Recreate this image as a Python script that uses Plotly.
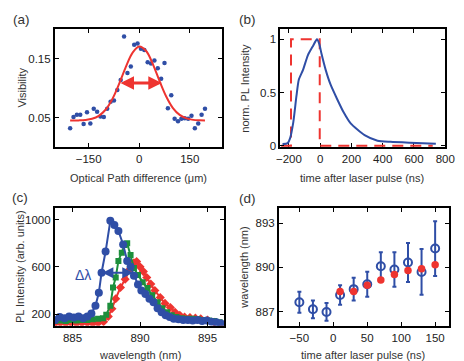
import plotly.graph_objects as go

# (a) visibility vs optical path difference
opd_um = [-205, -195, -185, -175, -165, -155, -145, -135, -125, -115, -105,
          -95, -85, -75, -65, -55, -45, -35, -25, -15, -5, 5, 15, 25, 35,
          45, 55, 65, 75, 85, 95, 105, 115, 125, 135, 145, 155, 165, 175,
          185, 195]
visibility = [0.032, 0.051, 0.055, 0.055, 0.039, 0.059, 0.040, 0.065, 0.060,
              0.052, 0.051, 0.065, 0.077, 0.079, 0.097, 0.114, 0.188, 0.126,
              0.137, 0.174, 0.176, 0.167, 0.165, 0.144, 0.142, 0.147, 0.134,
              0.116, 0.143, 0.066, 0.088, 0.048, 0.044, 0.048, 0.049, 0.048,
              0.053, 0.032, 0.040, 0.055, 0.065]
fit_opd_um = [-205, -180, -160, -140, -120, -100, -80, -60, -40, -20, 0,
              20, 40, 60, 80, 100, 120, 140, 160, 180, 195]
fit_visibility = [0.045, 0.0453, 0.046, 0.048, 0.053, 0.0634, 0.0814, 0.1069,
                  0.136, 0.1602, 0.1709, 0.1637, 0.1415, 0.1126, 0.086, 0.0663,
                  0.0546, 0.0487, 0.0462, 0.0454, 0.0451]
fwhm_ends_um = [-60, 67]
fwhm_level = 0.109

# (b) normalised PL intensity vs time
t_pl_ns = [-241, -208, -193, -172, -152, -137, -110, -79, -48, -21, -6, 8,
           35, 66, 108, 149, 195, 284, 367, 450, 574, 740]
pl_norm = [0.016, 0.025, 0.07, 0.223, 0.468, 0.621, 0.713, 0.85, 0.933, 1.0,
           0.958, 0.866, 0.713, 0.576, 0.44, 0.317, 0.21, 0.1, 0.048, 0.037,
           0.028, 0.018]
t_pulse_ns = [-250, -187, -187, -3, -3, 720]
pulse_norm = [0, 0, 1, 1, 0, 0]

# (c) PL spectra
wl_blue = [883.7, 884.05, 884.4, 884.75, 885.1, 885.45, 885.8, 886.1, 886.4,
           886.7, 886.95, 887.15, 887.45, 887.8, 888.1, 888.4, 888.75, 889.05,
           889.3, 889.55, 889.85, 890.1, 890.4, 890.7, 891.0, 891.3, 891.6,
           891.9, 892.2, 892.5, 892.85, 893.2, 893.55, 893.9, 894.25, 894.6,
           894.95, 895.3, 895.65, 896.0]
pl_blue = [150, 175, 165, 180, 170, 180, 165, 180, 205, 270, 380, 550, 730,
           990, 955, 905, 790, 650, 600, 525, 450, 400, 370, 330, 300, 250,
           215, 190, 175, 160, 155, 150, 150, 145, 150, 140, 145, 135, 130, 120]
wl_green = [883.7, 884.1, 884.5, 884.9, 885.3, 885.7, 886.1, 886.5, 886.9,
            887.25, 887.5, 887.8, 888.0, 888.2, 888.4, 888.65, 888.85, 889.05,
            889.3, 889.55, 889.85, 890.2, 890.55, 890.9, 891.3, 891.65, 892.0,
            892.35, 892.7, 893.1, 893.5, 893.9, 894.3, 894.7, 895.1, 895.5,
            895.9]
pl_green = [140, 145, 140, 150, 145, 150, 150, 155, 160, 165, 195, 270, 425,
            510, 650, 720, 785, 800, 700, 590, 530, 470, 420, 360, 300, 250,
            215, 190, 175, 165, 160, 160, 155, 150, 145, 140, 130]
wl_red = [883.7, 884.1, 884.5, 884.9, 885.3, 885.7, 886.1, 886.5, 886.9, 887.3,
          887.65, 887.92, 888.2, 888.55, 888.9, 889.25, 889.55, 889.75, 890.0,
          890.25, 890.5, 890.8, 891.1, 891.5, 891.85, 892.25, 892.6, 892.95,
          893.3, 893.7, 894.1, 894.5, 895.0, 895.5, 896.0]
pl_red = [120, 125, 120, 125, 120, 125, 125, 120, 125, 135, 180, 245, 330, 425,
          495, 580, 635, 645, 600, 560, 510, 455, 400, 340, 290, 255, 215, 190,
          175, 170, 165, 160, 150, 130, 120]
dl_ends_nm = [887.1, 889.5]
dl_level = 550

# (d) peak wavelength vs time
t_d_ns = [-50, -30, -10, 10, 30, 50, 70, 90, 110, 130, 150]
wl_d = [887.63, 887.15, 886.97, 888.12, 888.52, 888.85, 890.07, 889.85,
        890.33, 889.69, 891.28]
wl_d_err = [0.71, 0.6, 0.6, 0.66, 0.77, 0.85, 0.96, 1.17, 1.33, 1.55, 1.86]
t_d_red_ns = [10, 30, 50, 70, 90, 110, 130, 150]
wl_d_red = [888.36, 888.36, 888.78, 889.14, 889.51, 889.78, 889.91, 890.18]

BLUE = "#2f4ea6"
RED = "#ee3430"
GREEN = "#1d8f3c"
FONT = "Liberation Sans, Arial, sans-serif"
W, H = 464, 361


def frame(px0, px1, **kw):
    d = dict(domain=[px0 / W, px1 / W], showline=True, linecolor="black",
             linewidth=2, mirror="allticks", ticks="inside", ticklen=4,
             tickcolor="black", showgrid=False, zeroline=False,
             tickfont=dict(size=11.5, color="#222"))
    d.update(kw)
    return d


def vframe(top, bottom, **kw):
    return frame(W * (1 - bottom / H), W * (1 - top / H), **kw)


fig = go.Figure()

# (a)
fig.add_trace(go.Scatter(x=opd_um, y=visibility, mode="markers",
                         marker=dict(color=BLUE, size=4.5), xaxis="x", yaxis="y"))
fig.add_trace(go.Scatter(x=fit_opd_um, y=fit_visibility, mode="lines",
                         line=dict(color=RED, width=2, shape="spline"),
                         xaxis="x", yaxis="y"))

# (b)
fig.add_trace(go.Scatter(x=t_pulse_ns, y=pulse_norm, mode="lines",
                         line=dict(color=RED, width=2, dash="11px,7px"),
                         xaxis="x2", yaxis="y2"))
fig.add_trace(go.Scatter(x=t_pl_ns, y=pl_norm, mode="lines",
                         line=dict(color=BLUE, width=2, shape="spline",
                                   smoothing=0.6),
                         xaxis="x2", yaxis="y2"))

# (c)
fig.add_trace(go.Scatter(x=wl_red, y=pl_red, mode="lines+markers",
                         line=dict(color=RED, width=2),
                         marker=dict(symbol="diamond", size=7, color=RED),
                         xaxis="x3", yaxis="y3"))
fig.add_trace(go.Scatter(x=wl_green, y=pl_green, mode="lines+markers",
                         line=dict(color=GREEN, width=2),
                         marker=dict(symbol="square", size=6, color=GREEN),
                         xaxis="x3", yaxis="y3"))
fig.add_trace(go.Scatter(x=wl_blue, y=pl_blue, mode="lines+markers",
                         line=dict(color=BLUE, width=2),
                         marker=dict(symbol="circle", size=8, color=BLUE),
                         xaxis="x3", yaxis="y3"))

# (d)
fig.add_trace(go.Scatter(x=t_d_ns, y=wl_d, mode="markers",
                         marker=dict(symbol="circle-open", size=8, color=BLUE,
                                     line=dict(width=2, color=BLUE)),
                         error_y=dict(type="data", array=wl_d_err, color=BLUE,
                                      thickness=2, width=2),
                         xaxis="x4", yaxis="y4"))
fig.add_trace(go.Scatter(x=t_d_red_ns, y=wl_d_red, mode="markers",
                         marker=dict(symbol="circle", size=7.5, color=RED),
                         xaxis="x4", yaxis="y4"))

fig.update_layout(
    width=W, height=H, margin=dict(l=0, r=0, t=0, b=0),
    paper_bgcolor="white", plot_bgcolor="white", showlegend=False,
    font=dict(family=FONT, color="#333"),
    xaxis=frame(44.3, 216.7, range=[-250, 246], tickvals=[-150, 0, 150],
                anchor="y"),
    yaxis=vframe(21.7, 141, range=[0, 0.2], tickvals=[0.05, 0.15],
                 ticktext=["0.05", "0.15"], anchor="x"),
    xaxis2=frame(276.7, 446.7, range=[-255, 800],
                 tickvals=[-200, 0, 200, 400, 600, 800], anchor="y2",
                 layer="below traces"),
    yaxis2=vframe(21, 141, range=[-0.012, 1.1], tickvals=[0, 0.5, 1],
                  ticktext=["0", "0.5", "1"], anchor="x2"),
    xaxis3=frame(44.3, 219, range=[883.7, 896.25], tickvals=[885, 890, 895],
                 anchor="y3"),
    yaxis3=vframe(202.7, 322.3, range=[100, 1100], tickvals=[200, 600, 1000],
                  anchor="x3"),
    xaxis4=frame(275.3, 450.3, range=[-80, 170],
                 tickvals=[-50, 0, 50, 100, 150], anchor="y4"),
    yaxis4=vframe(203.3, 322.7, range=[886, 894], tickvals=[887, 890, 893],
                  anchor="x4"),
)

ann = []
# FWHM arrow (a)
ann.append(dict(x=fwhm_ends_um[1], y=fwhm_level, ax=fwhm_ends_um[0],
                ay=fwhm_level, xref="x", yref="y", axref="x", ayref="y",
                text="", showarrow=True, arrowhead=2, arrowside="end+start",
                arrowsize=0.9, arrowwidth=3, arrowcolor=RED))
# delta lambda arrow (c)
ann.append(dict(x=dl_ends_nm[1], y=dl_level, ax=dl_ends_nm[0], ay=dl_level,
                xref="x3", yref="y3", axref="x3", ayref="y3", text="",
                showarrow=True, arrowhead=2, arrowside="end+start",
                arrowsize=1.1, arrowwidth=2, arrowcolor=BLUE))
ann.append(dict(x=885.76, y=535, xref="x3", yref="y3", text="Δλ",
                showarrow=False, font=dict(size=14, color=BLUE)))


def label(text, x, y, size=11, angle=0):
    return dict(text=text, x=x / W, y=1 - y / H, xref="paper", yref="paper",
                showarrow=False, textangle=angle,
                font=dict(size=size, color="#333"),
                xanchor="center", yanchor="middle")


for txt, x, y in [("(a)", 10, 12), ("(b)", 243, 12), ("(c)", 8, 192),
                  ("(d)", 243, 193)]:
    ann.append(label(txt, x, y, size=13.5))
ann.append(label("Optical Path difference (μm)", 130.5, 172))
ann.append(label("time after laser pulse (ns)", 361, 172))
ann.append(label("wavelength (nm)", 131.5, 352))
ann.append(label("time after laser pulse (ns)", 362, 352))
ann.append(label("Visibility", 10, 81, angle=-90))
ann.append(label("norm. PL Intensity", 240, 81, angle=-90))
ann.append(label("PL Intensity (arb. units)", 8.5, 262.5, angle=-90))
ann.append(label("wavelength (nm)", 239.5, 263, angle=-90))
fig.update_layout(annotations=ann)

fig.write_html("out.html")
